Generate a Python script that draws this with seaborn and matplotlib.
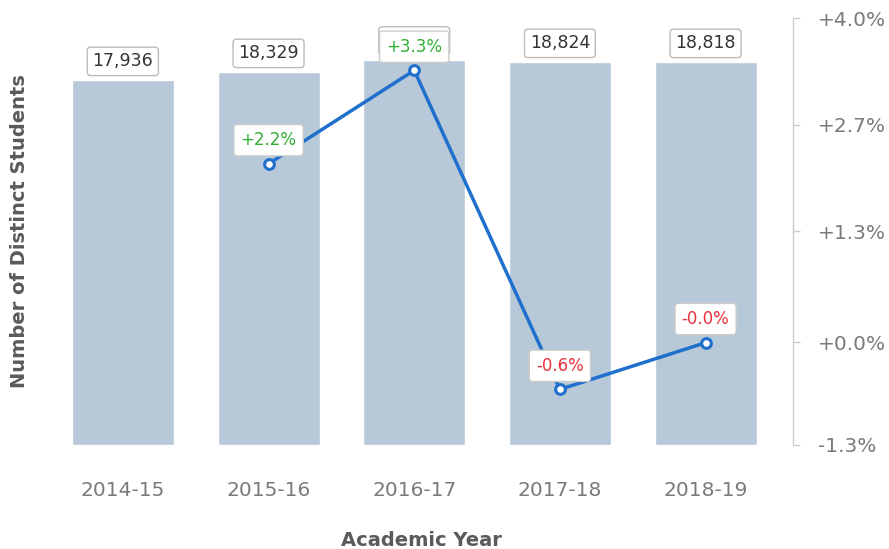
import numpy as np
import pandas as pd
import matplotlib
matplotlib.use("Agg")
import matplotlib.pyplot as plt
import seaborn as sns

years = ["2014-15", "2015-16", "2016-17", "2017-18", "2018-19"]
students = [17936, 18329, 18940, 18824, 18818]
pct_change = [np.nan, 2.19, 3.35, -0.61, -0.03]
pct_labels = ["", "+2.2%", "+3.3%", "-0.6%", "-0.0%"]
right_ticks = [-1.3, -0.025, 1.35, 2.675, 4.0]
right_tick_labels = ["-1.3%", "+0.0%", "+1.3%", "+2.7%", "+4.0%"]

sns.set_theme(style="white")
plt.rcParams['font.family'] = ['DejaVu Sans']

df = pd.DataFrame({"year": years, "students": students, "pct": pct_change,
                   "idx": np.arange(len(years))})

fig = plt.figure(figsize=(8.89, 5.49), dpi=100)
ax = fig.add_axes([50/889, (549-445)/549, (793-50)/889, (445-18)/549])

sns.barplot(data=df, x="year", y="students", color="#b7c9d8", width=0.70,
            saturation=1, ax=ax, zorder=1)
ax.set_ylim(0, 20990)
ax.set_xlim(-0.5, 4.6)
ax.set_yticks([])
for s in ["top", "left", "right", "bottom"]:
    ax.spines[s].set_visible(False)
ax.tick_params(axis="x", length=0, pad=26, labelsize=14.5, labelcolor="#7a7a7a")
ax.set_xlabel("Academic Year", fontsize=14, color="#5a5a5a", fontweight="bold", labelpad=22)
ax.set_ylabel("Number of Distinct Students", fontsize=14, color="#5a5a5a",
              fontweight="bold", va="center")
ax.yaxis.set_label_coords((20 - 50) / 743, 0.5)

box = dict(boxstyle="round,pad=0.3,rounding_size=0.2", fc="white", ec="#bbbbbb", lw=1)
for i, v in enumerate(students):
    ax.annotate(f"{v:,}", (i, v), xytext=(0, 13.5), textcoords="offset points",
                ha="center", va="center", fontsize=12.5, color="#333333",
                bbox=box, zorder=3)

ax2 = ax.twinx()
sns.lineplot(data=df, x="idx", y="pct", ax=ax2, color="#1f6fcc", lw=2.5,
             marker="o", markersize=7, markerfacecolor="white",
             markeredgecolor="#1f6fcc", markeredgewidth=2.2, zorder=5)
ax2.set_ylim(-1.3, 4.0)
ax2.set_xlim(-0.5, 4.6)
ax2.set_yticks(right_ticks)
ax2.set_yticklabels(right_tick_labels)
ax2.set_ylabel("")
ax2.set_xlabel("")
for s in ["top", "left", "bottom"]:
    ax2.spines[s].set_visible(False)
ax2.spines["right"].set_color("#cccccc")
ax2.spines["right"].set_linewidth(1)
ax2.tick_params(axis="y", direction="out", length=5, width=1, color="#cccccc",
                labelsize=14.5, labelcolor="#7a7a7a", pad=13, right=True)

for i, (p, lab) in enumerate(zip(pct_change, pct_labels)):
    if np.isnan(p):
        continue
    col = "#2fae2f" if lab.startswith("+") else "#e8323c"
    ax2.annotate(lab, (i, p), xytext=(0, 17), textcoords="offset points",
                 ha="center", va="center", fontsize=12, color=col,
                 bbox=dict(boxstyle="round,pad=0.4,rounding_size=0.2", fc="white",
                           ec="#cccccc", lw=1), zorder=6)

fig.savefig("out.png", dpi=100)
